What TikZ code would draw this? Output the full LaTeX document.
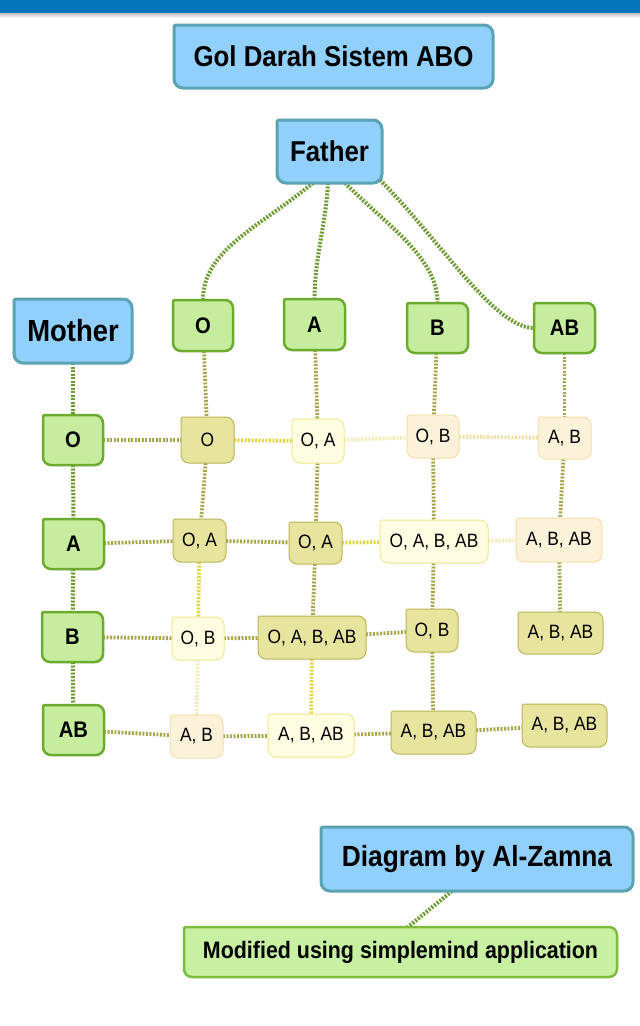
\documentclass[tikz,border=0pt]{standalone}
\usepackage{fontspec}
\setmainfont{Liberation Sans}[FakeStretch=0.9]
\pgfdeclarelayer{bg}
\pgfdeclarelayer{edges}
\pgfdeclarelayer{boxes}
\pgfsetlayers{bg,edges,boxes,main}
\definecolor{topblue}{HTML}{0676BC}
\definecolor{bfill}{HTML}{90D0FB}
\definecolor{bdraw}{HTML}{5AA3B3}
\definecolor{gfill}{HTML}{C6EC9E}
\definecolor{gdraw}{HTML}{6CAB2E}
\definecolor{mfill}{HTML}{C8F0A2}
\definecolor{mdraw}{HTML}{7DBB3A}
\definecolor{kfill}{HTML}{E7E49E}
\definecolor{kdraw}{HTML}{BAB555}
\definecolor{yfill}{HTML}{FFFDE2}
\definecolor{ydraw}{HTML}{EFE68C}
\definecolor{efill}{HTML}{FCF1D9}
\definecolor{edraw}{HTML}{F2E0A8}
\definecolor{lgreen}{HTML}{6E9B32}
\definecolor{lolive}{HTML}{A9A54B}
\definecolor{lyellow}{HTML}{E3D540}
\definecolor{lbeige}{HTML}{F0DEA2}
\definecolor{lpale}{HTML}{F5E9B5}
\newcommand\mmshape[3]{%
  \path[#1] ([xshift=1.5pt]#2.north west) -- ([xshift=-#3]#2.north east)
    arc[start angle=90,end angle=0,radius=#3] -- ([yshift=#3]#2.south east)
    arc[start angle=0,end angle=-90,radius=#3] -- ([xshift=#3]#2.south west)
    arc[start angle=270,end angle=180,radius=#3] -- ([yshift=-1.5pt]#2.north west)
    arc[start angle=180,end angle=90,radius=1.5pt] -- cycle;}
\begin{document}
\begin{tikzpicture}[x=1pt,y=-1pt,
  txt/.style={inner sep=0pt, outer sep=0pt, text=black, align=center},
  bigb/.style={txt, font=\bfseries\fontsize{28.7}{32}\selectfont},
  hdr/.style={txt, font=\bfseries\fontsize{22.5}{26}\selectfont},
  cell/.style={txt, font=\fontsize{19.3}{23}\selectfont},
  bluebox/.style={fill=bfill, draw=bdraw, line width=3pt},
  greenbox/.style={fill=gfill, draw=gdraw, line width=2.5pt},
  modbox/.style={fill=mfill, draw=mdraw, line width=2.5pt},
  kbox/.style={fill=kfill, draw=kdraw, line width=1pt},
  ybox/.style={fill=yfill, draw=ydraw, line width=1pt},
  ebox/.style={fill=efill, draw=edraw, line width=1pt},
  dots/.style={line width=3.8pt, dash pattern=on 2pt off 1.5pt},
  gl/.style={dots, draw=lgreen, line width=4pt},
  ol/.style={dots, draw=lolive},
  yl/.style={dots, draw=lyellow},
  bl/.style={dots, draw=lbeige},
  pl/.style={dots, draw=lpale}]
\begin{pgfonlayer}{bg}
\fill[white] (0,0) rectangle (640,1026);
\fill[topblue] (0,0) rectangle (640,13);
\shade[top color=black!25, bottom color=white] (0,13) rectangle (640,18);
\end{pgfonlayer}
\useasboundingbox (0,0) rectangle (640,1026);

% main boxes
\node[bigb, minimum width=319, minimum height=63] (title) at (333.5,56.5) {Gol Darah Sistem ABO};
\node[bigb, minimum width=105, minimum height=63] (father) at (329.5,151.5) {Father};
\node[bigb, minimum width=118, minimum height=64, font=\bfseries\fontsize{30.5}{34}\selectfont] (mother) at (73,331) {Mother};

% father columns
\node[hdr, minimum width=60, minimum height=51] (cO) at (203,325.5) {O};
\node[hdr, minimum width=61, minimum height=51] (cA) at (314.5,324.5) {A};
\node[hdr, minimum width=61, minimum height=50] (cB) at (437.5,328) {B};
\node[hdr, minimum width=61, minimum height=50] (cAB) at (564.5,328) {AB};

% mother rows
\node[hdr, minimum width=60, minimum height=50] (rO) at (73,440) {O};
\node[hdr, minimum width=61, minimum height=50] (rA) at (73.5,544) {A};
\node[hdr, minimum width=61, minimum height=50] (rB) at (72.5,637) {B};
\node[hdr, minimum width=61, minimum height=50] (rAB) at (73.5,730) {AB};

% cells
\node[cell, minimum width=53, minimum height=46] (oo) at (207.5,440) {O};
\node[cell, minimum width=52, minimum height=44] (oa) at (318,441) {O, A};
\node[cell, minimum width=52, minimum height=43] (ob) at (433,436.5) {O, B};
\node[cell, minimum width=53, minimum height=42] (oab) at (564.5,438) {A, B};

\node[cell, minimum width=53, minimum height=43] (ao) at (199.5,540.5) {O, A};
\node[cell, minimum width=53, minimum height=42] (aa) at (315.5,543) {O, A};
\node[cell, minimum width=108, minimum height=43] (ab) at (434,541.5) {O, A, B, AB};
\node[cell, minimum width=86, minimum height=44] (aab) at (559,540) {A, B, AB};

\node[cell, minimum width=52, minimum height=43] (bo) at (198,638.5) {O, B};
\node[cell, minimum width=108, minimum height=43] (ba) at (312,637.5) {O, A, B, AB};
\node[cell, minimum width=52, minimum height=43] (bb) at (432,630.5) {O, B};
\node[cell, minimum width=85, minimum height=42] (bab) at (560.5,633) {A, B, AB};

\node[cell, minimum width=53, minimum height=43] (abo) at (196.5,736.5) {A, B};
\node[cell, minimum width=86, minimum height=43] (aba) at (311,735.5) {A, B, AB};
\node[cell, minimum width=85, minimum height=43] (abb) at (433.5,732.5) {A, B, AB};
\node[cell, minimum width=85, minimum height=43] (abab) at (564.5,725.5) {A, B, AB};

% credits
\node[bigb, minimum width=312, minimum height=64, font=\bfseries\fontsize{29.2}{33}\selectfont] (diag) at (477,859) {Diagram by Al-Zamna};
\node[txt, minimum width=433, minimum height=50, font=\bfseries\fontsize{23.8}{27}\selectfont] (mod) at (400.5,952) {Modified using simplemind application};

\begin{pgfonlayer}{boxes}
\foreach \n in {title,father,mother,diag} {\mmshape{bluebox}{\n}{9pt}}
\foreach \n in {cO,cA,cB,cAB,rO,rA,rB,rAB} {\mmshape{greenbox}{\n}{8pt}}
\mmshape{modbox}{mod}{8pt}
\foreach \n in {oo,ao,aa,ba,bb,bab,abb,abab} {\mmshape{kbox}{\n}{8pt}}
\foreach \n in {oa,ab,bo,aba} {\mmshape{ybox}{\n}{8pt}}
\foreach \n in {ob,oab,aab,abo} {\mmshape{ebox}{\n}{8pt}}
\end{pgfonlayer}

\begin{pgfonlayer}{edges}
% father to columns
\draw[gl] ([xshift=-16.5pt]father.south) .. controls +(-55,45) and +(0,-50) .. (cO.north);
\draw[gl] ([xshift=-1.5pt]father.south) .. controls +(-2,40) and +(0,-40) .. (cA.north);
\draw[gl] ([xshift=15.5pt]father.south) .. controls +(45,45) and +(0,-45) .. (cB.north);
\draw[gl] ([xshift=-2pt,yshift=3pt]father.south east) .. controls +(60,60) and +(-40,0) .. (cAB.west);
% mother chain
\draw[gl] (mother) -- (rO);
\draw[gl] (rO) -- (rA);
\draw[gl] (rA) -- (rB);
\draw[gl] (rB) -- (rAB);
% rows
\draw[ol] (rO) -- (oo);
\draw[yl] (oo) -- (oa);
\draw[pl] (oa) -- (ob);
\draw[bl] (ob) -- (oab);
\draw[ol] (rA) -- (ao);
\draw[ol] (ao) -- (aa);
\draw[yl] (aa) -- (ab);
\draw[pl] (ab) -- (aab);
\draw[ol] (rB) -- (bo);
\draw[ol] (bo) -- (ba);
\draw[ol] (ba) -- (bb);
\draw[ol] (rAB) -- (abo);
\draw[ol] (abo) -- (aba);
\draw[ol] (aba) -- (abb);
\draw[ol] (abb) -- (abab);
% columns
\draw[ol] (cO) -- (oo);
\draw[ol] (oo) -- (ao);
\draw[yl] (ao) -- (bo);
\draw[pl] (bo) -- (abo);
\draw[ol] (cA) -- (oa);
\draw[ol] (oa) -- (aa);
\draw[ol] (aa) -- (ba);
\draw[yl] (ba) -- (aba);
\draw[ol] (cB) -- (ob);
\draw[ol] (ob) -- (ab);
\draw[ol] (ab) -- (bb);
\draw[ol] (bb) -- (abb);
\draw[ol] (cAB) -- (oab);
\draw[ol] (oab) -- (aab);
\draw[ol] (aab) -- (bab);
% credits
\draw[gl] ([xshift=-25pt]diag.south) -- ([xshift=7.5pt]mod.north);
\end{pgfonlayer}
\end{tikzpicture}
\end{document}
